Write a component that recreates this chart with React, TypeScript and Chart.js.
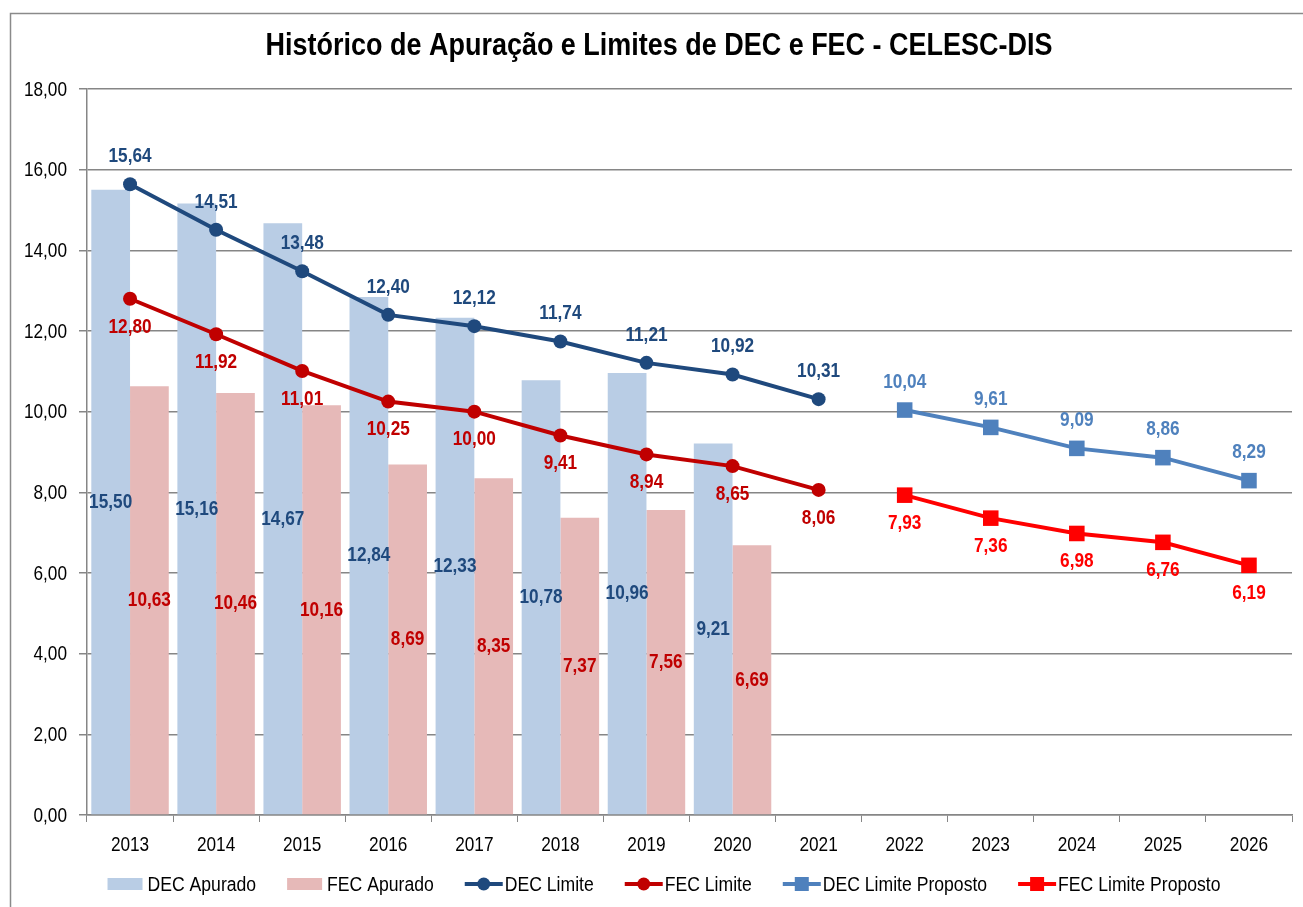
import React, { useEffect, useRef } from 'react';
import { Chart, registerables } from 'chart.js';

Chart.register(...registerables);

const FONT = '"Liberation Sans", Arial, sans-serif';
const NARROW = 0.82;

const years = ['2013', '2014', '2015', '2016', '2017', '2018', '2019', '2020', '2021', '2022', '2023', '2024', '2025', '2026'];
const decApurado = [15.5, 15.16, 14.67, 12.84, 12.33, 10.78, 10.96, 9.21, null, null, null, null, null, null];
const fecApurado = [10.63, 10.46, 10.16, 8.69, 8.35, 7.37, 7.56, 6.69, null, null, null, null, null, null];
const decLimite = [15.64, 14.51, 13.48, 12.4, 12.12, 11.74, 11.21, 10.92, 10.31, null, null, null, null, null];
const fecLimite = [12.8, 11.92, 11.01, 10.25, 10.0, 9.41, 8.94, 8.65, 8.06, null, null, null, null, null];
const decLimiteProposto = [null, null, null, null, null, null, null, null, null, 10.04, 9.61, 9.09, 8.86, 8.29];
const fecLimiteProposto = [null, null, null, null, null, null, null, null, null, 7.93, 7.36, 6.98, 6.76, 6.19];

const yMin = 0;
const yMax = 18;
const yStep = 2;

const TITLE = 'Histórico de Apuração e Limites de DEC e FEC - CELESC-DIS';

const fmt = (v: number) => v.toFixed(2).replace('.', ',');

// draws text horizontally condensed (Arial Narrow look)
function narrowText(ctx: CanvasRenderingContext2D, text: string, x: number, y: number, align: CanvasTextAlign, sx: number = NARROW) {
  ctx.save();
  ctx.translate(x, y);
  ctx.scale(sx, 1);
  ctx.textAlign = align;
  ctx.fillText(text, 0, 0);
  ctx.restore();
}

const labelsPlugin = {
  id: 'valueLabels',
  afterDatasetsDraw(chart: any) {
    const ctx = chart.ctx;
    ctx.save();
    ctx.font = `bold 21px ${FONT}`;
    ctx.textBaseline = 'middle';
    chart.data.datasets.forEach((ds: any, i: number) => {
      const meta = chart.getDatasetMeta(i);
      ctx.fillStyle = ds.labelColor;
      meta.data.forEach((el: any, j: number) => {
        const v = ds.data[j];
        if (v === null || v === undefined) return;
        let y = el.y;
        if (ds.labelPos === 'center') {
          y = (el.y + el.base) / 2;
        } else if (ds.labelPos === 'above') {
          y = el.y - 28;
        } else {
          y = el.y + 28;
        }
        narrowText(ctx, fmt(v), el.x, y, 'center');
      });
    });
    ctx.restore();
  },
};

const textPlugin = {
  id: 'frameTextLegend',
  beforeDraw(chart: any) {
    const ctx = chart.ctx;
    ctx.save();
    ctx.fillStyle = '#ffffff';
    ctx.fillRect(0, 0, chart.width, chart.height);
    ctx.strokeStyle = '#8a8a8a';
    ctx.lineWidth = 1.5;
    ctx.beginPath();
    ctx.moveTo(10.5, chart.height);
    ctx.lineTo(10.5, 13.5);
    ctx.lineTo(chart.width, 13.5);
    ctx.stroke();
    ctx.restore();
  },
  afterDraw(chart: any) {
    const ctx = chart.ctx;
    ctx.save();
    // title
    ctx.fillStyle = '#000000';
    ctx.textBaseline = 'middle';
    ctx.font = `bold 31px ${FONT}`;
    narrowText(ctx, TITLE, 659, 46, 'center', 0.87);

    // y tick labels
    const ys = chart.scales.y;
    ctx.font = `21px ${FONT}`;
    ys.ticks.forEach((t: any) => {
      narrowText(ctx, fmt(Number(t.value)), ys.right - 20, ys.getPixelForValue(t.value) + 1, 'right');
    });
    // x tick labels
    const xs = chart.scales.x;
    xs.ticks.forEach((t: any, i: number) => {
      narrowText(ctx, String(chart.data.labels[i]), xs.getPixelForTick(i), xs.top + 30, 'center');
    });

    // legend
    ctx.font = `20px ${FONT}`;
    const sxL = 0.88;
    const markerW = 36;
    const gapText = 4;
    const gapItem = 31;
    const items = chart.data.datasets.map((ds: any) => ({
      text: ds.label,
      kind: ds.type,
      color: ds.type === 'bar' ? ds.backgroundColor : ds.borderColor,
      style: ds.pointStyle,
    }));
    const widths = items.map((it: any) => markerW + gapText + ctx.measureText(it.text).width * sxL);
    const total = widths.reduce((a: number, b: number) => a + b, 0) + gapItem * (items.length - 1);
    let x = 664 - total / 2;
    const cy = 884;
    items.forEach((it: any, i: number) => {
      if (it.kind === 'bar') {
        ctx.fillStyle = it.color;
        ctx.fillRect(x, cy - 6, 35, 12);
      } else {
        ctx.strokeStyle = it.color;
        ctx.fillStyle = it.color;
        ctx.lineWidth = 4;
        ctx.beginPath();
        ctx.moveTo(x, cy);
        ctx.lineTo(x + 38, cy);
        ctx.stroke();
        if (it.style === 'rect') {
          ctx.fillRect(x + 19 - 7, cy - 7, 14, 14);
        } else {
          ctx.beginPath();
          ctx.arc(x + 19, cy, 6.5, 0, Math.PI * 2);
          ctx.fill();
        }
      }
      ctx.fillStyle = '#000000';
      narrowText(ctx, it.text, x + markerW + gapText, cy + 1, 'left', sxL);
      x += widths[i] + gapItem;
    });
    ctx.restore();
  },
};

export default function App() {
  const ref = useRef<HTMLCanvasElement | null>(null);

  useEffect(() => {
    document.body.style.margin = '0';
    const canvas = ref.current;
    if (!canvas) return;
    const lineDs = (label: string, data: any[], color: string, style: string, pos: string) => ({
      type: 'line' as const,
      label,
      data,
      borderColor: color,
      backgroundColor: color,
      borderWidth: 4,
      pointStyle: style,
      pointRadius: style === 'rect' ? 11 : 7,
      pointBorderWidth: 0,
      pointBackgroundColor: color,
      spanGaps: false,
      tension: 0,
      order: 1,
      labelColor: color,
      labelPos: pos,
    });
    const chart = new Chart(canvas, {
      type: 'bar',
      data: {
        labels: years,
        datasets: [
          {
            type: 'bar',
            label: 'DEC Apurado',
            data: decApurado,
            backgroundColor: '#b9cde5',
            categoryPercentage: 0.9,
            barPercentage: 1.0,
            order: 2,
            labelColor: '#1f497d',
            labelPos: 'center',
          } as any,
          {
            type: 'bar',
            label: 'FEC Apurado',
            data: fecApurado,
            backgroundColor: '#e6b9b8',
            categoryPercentage: 0.9,
            barPercentage: 1.0,
            order: 2,
            labelColor: '#c00000',
            labelPos: 'center',
          } as any,
          lineDs('DEC Limite', decLimite, '#1f497d', 'circle', 'above') as any,
          lineDs('FEC Limite', fecLimite, '#c00000', 'circle', 'below') as any,
          lineDs('DEC Limite Proposto', decLimiteProposto, '#4f81bd', 'rect', 'above') as any,
          lineDs('FEC Limite Proposto', fecLimiteProposto, '#ff0000', 'rect', 'below') as any,
        ],
      },
      options: {
        responsive: false,
        animation: false,
        events: [],
        layout: { padding: { top: 89, left: 25, right: 10, bottom: 52 } },
        plugins: {
          legend: { display: false },
          tooltip: { enabled: false },
          title: { display: false },
        },
        scales: {
          x: {
            grid: {
              display: true,
              drawOnChartArea: false,
              drawTicks: true,
              tickLength: 7,
              color: '#868686',
              offset: true,
            },
            border: { display: true, color: '#868686', width: 1.5 },
            ticks: { display: false },
            afterFit: (scale: any) => {
              scale.height = 40;
            },
          },
          y: {
            min: yMin,
            max: yMax,
            grid: {
              color: '#868686',
              lineWidth: 1.5,
              tickLength: 8,
            },
            border: { display: true, color: '#868686', width: 1.5 },
            ticks: {
              display: false,
              stepSize: yStep,
            },
            afterFit: (scale: any) => {
              scale.width = 62;
            },
          },
        },
      },
      plugins: [labelsPlugin, textPlugin],
    } as any);
    return () => chart.destroy();
  }, []);

  return (
    <div style={{ width: 1303, height: 907 }}>
      <canvas ref={ref} width={1303} height={907} style={{ display: 'block', width: 1303, height: 907 }} />
    </div>
  );
}
